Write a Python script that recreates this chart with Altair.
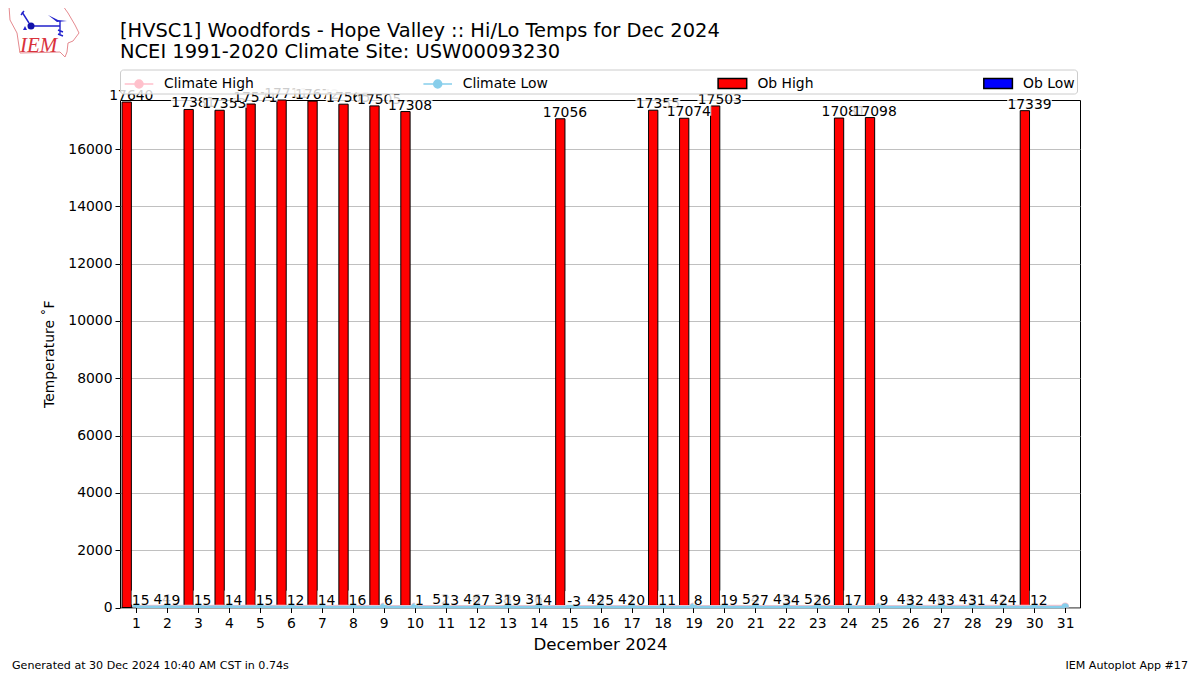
import base64
import altair as alt
import pandas as pd

FONT = "DejaVu Sans"
days = list(range(1, 32))
ob_high = [17640, 44, 17381, 17353, 17571, 17711, 17672, 17565, 17505, 17308,
           52, 46, 38, 36, 17056, 43, 41, 17355, 17074, 17503,
           54, 45, 53, 17081, 17098, 44, 46, 43, 42, 17339, None]
ob_low = [15, 19, 15, 14, 15, 12, 14, 16, 6, 1,
          13, 27, 19, 14, -3, 25, 20, 11, 8, 19,
          27, 34, 26, 17, 9, 32, 33, 31, 24, 12, None]
climate_high = [50, 50, 49, 49, 49, 49, 49, 49, 48, 48, 48, 48, 48, 48, 48, 48,
                48, 48, 48, 48, 48, 48, 48, 48, 48, 48, 49, 49, 49, 49, 49]
climate_low = [22, 22, 22, 22, 22, 21, 21, 21, 21, 21, 21, 21, 21, 21, 21, 21,
               21, 21, 21, 21, 21, 21, 21, 21, 21, 21, 21, 21, 21, 21, 21]
series_names = ["Climate High", "Climate Low", "Ob High", "Ob Low"]
y_ticks = [0, 2000, 4000, 6000, 8000, 10000, 12000, 14000, 16000]
title_lines = ["[HVSC1] Woodfords - Hope Valley :: Hi/Lo Temps for Dec 2024",
               "NCEI 1991-2020 Climate Site: USW00093230"]
left_note = "Generated at 30 Dec 2024 10:40 AM CST in 0.74s"
right_note = "IEM Autoplot App #17"

x_scale = alt.Scale(domain=[0.483, 31.48], nice=False, zero=False)
y_scale = alt.Scale(domain=[0, 17711], nice=False, zero=False)

df = pd.DataFrame({"day": days, "hi": ob_high, "lo": ob_low,
                   "chi": climate_high, "clo": climate_low})
df["hi0"] = df.day - 0.45
df["hi1"] = df.day - 0.15
df["lo0"] = df.day - 0.15
df["lo1"] = df.day + 0.15
df["zero"] = 0
obs = df[df.hi.notna()]

x_axis = alt.Axis(values=days, title="December 2024", grid=False, labelFontSize=13.9,
                  titleFontSize=16.67, labelFont=FONT, titleFont=FONT, tickSize=5,
                  tickColor="black", labelColor="black", titleColor="black", domain=False,
                  labelPadding=4, titlePadding=6, titleFontWeight="normal", labelAngle=0,
                  labelOverlap=False, labelBound=False, labelFlush=False)
y_axis = alt.Axis(values=y_ticks, title="Temperature \u02daF",
                  grid=True, gridColor="#b0b0b0", gridWidth=0.8, labelFontSize=13.9,
                  titleFontSize=13.9, labelFont=FONT, titleFont=FONT, tickSize=5,
                  tickColor="black", labelColor="black", titleColor="black", domain=False,
                  labelPadding=3, titlePadding=11, titleFontWeight="normal", format="d")

hi_bars = alt.Chart(obs).mark_rect(fill="red", stroke="black", strokeWidth=1).encode(
    x=alt.X("hi0:Q", scale=x_scale, axis=x_axis), x2="hi1:Q",
    y=alt.Y("hi:Q", scale=y_scale, axis=y_axis), y2="zero:Q")
lo_bars = alt.Chart(obs).mark_rect(fill="blue", stroke="black", strokeWidth=1).encode(
    x=alt.X("lo0:Q", scale=x_scale, axis=x_axis), x2="lo1:Q",
    y=alt.Y("lo:Q", scale=y_scale, axis=y_axis), y2="zero:Q")


def climate(field, color):
    base = alt.Chart(df).encode(x=alt.X("day:Q", scale=x_scale, axis=x_axis),
                                y=alt.Y(f"{field}:Q", scale=y_scale, axis=y_axis))
    return [base.mark_line(color=color, strokeWidth=2.5),
            base.mark_circle(color=color, size=54, opacity=1, clip=True)]


R = 0.28
CIRCLE = f"M{R},0A{R},{R},0,1,1,-{R},0A{R},{R},0,1,1,{R},0Z"
LINE_SYM = "M-1.3,0H1.3" + CIRCLE.replace(str(R), str(round(R * 1.3, 3)))
BOX_SYM = "M-1.3,-0.45H1.3V0.45H-1.3Z"
fills = ["pink", "skyblue", "red", "blue"]
strokes = ["pink", "skyblue", "black", "black"]
shapes = [LINE_SYM, LINE_SYM, BOX_SYM, BOX_SYM]
legend = alt.Legend(title=None, orient="none", legendX=0, legendY=-30.5, columns=4,
                    columnPadding=165.7, padding=2, symbolSize=484, symbolOffset=5,
                    symbolStrokeWidth=1.5, labelFont=FONT, labelFontSize=13.9,
                    labelColor="black", labelOffset=13, fillColor="rgba(255,255,255,0.8)",
                    strokeColor="#cccccc", cornerRadius=3, zindex=1, symbolOpacity=1,
                    labelExpr="datum.label + '\u00a0\u00a0'")
legend_long = pd.DataFrame({"day": [1, 1, 1, 1], "v": [0, 0, 0, 0], "series": series_names})
legend_layer = alt.Chart(legend_long).transform_filter("datum.day < 0").mark_point(
    filled=True).encode(
    x=alt.X("day:Q", scale=x_scale, axis=x_axis), y=alt.Y("v:Q", scale=y_scale, axis=y_axis),
    fill=alt.Fill("series:N", scale=alt.Scale(domain=series_names, range=fills), legend=legend),
    stroke=alt.Stroke("series:N", scale=alt.Scale(domain=series_names, range=strokes), legend=legend),
    shape=alt.Shape("series:N", scale=alt.Scale(domain=series_names, range=shapes), legend=legend))


def label(day_x, value):
    text = str(int(value))
    row = pd.DataFrame({"px": [day_x], "v": [value], "t": [text]})
    w = len(text) * 8.84 + 0.6
    enc = dict(x=alt.X("px:Q", scale=x_scale, axis=x_axis), y=alt.Y("v:Q", scale=y_scale, axis=y_axis))
    return [
        alt.Chart(row).mark_rect(width=w, height=14, yOffset=-9.5, fill="white", opacity=0.8,
                                 strokeWidth=0).encode(**enc),
        alt.Chart(row).mark_text(font=FONT, fontSize=13.9, color="black", baseline="alphabetic",
                                 dy=-2).encode(text="t:N", **enc),
    ]


label_layers = []
for d, h, l in zip(obs.day, obs.hi, obs.lo):
    label_layers += label(d - 0.15, h) + label(d + 0.15, l)

notes = [
    alt.Chart(pd.DataFrame({"t": [left_note]})).mark_text(
        font=FONT, fontSize=11.1, align="left", color="black").encode(
        x=alt.value(-108), y=alt.value(566), text="t:N"),
    alt.Chart(pd.DataFrame({"t": [right_note]})).mark_text(
        font=FONT, fontSize=11.1, align="right", color="black").encode(
        x=alt.value(1068), y=alt.value(566), text="t:N"),
]

svg = """<svg xmlns='http://www.w3.org/2000/svg' width='72' height='54' viewBox='8 4 72 54'>
<path d='M9,6 L63,6 L68,13 L75,25 L79,33 L73,41 L68,43 L67,52 L65,57 L60,52 L20,53 L17,33 L10,20 Z'
 fill='white' stroke='#e58a8f' stroke-width='1'/>
<path d='M22,12 L29,23 M21,15 L24,11 M32,26 L60,26 M60,21 L60,34 M58,30 L63,32 M58,34 L63,36'
 fill='none' stroke='#2222cc' stroke-width='1.4'/>
<path d='M48,15 L58,20 L67,21 L57,22 Z' fill='#2222cc'/>
<circle cx='31' cy='26' r='3.5' fill='#1111aa'/><path d='M23,30 L25,26 L27,30 Z' fill='#2222cc'/>
</svg>"""
logo_url = "data:image/svg+xml;base64," + base64.b64encode(svg.encode()).decode()
logo = alt.Chart(pd.DataFrame({"a": [0]})).mark_image(
    url=logo_url, width=72, height=54, align="left", baseline="top").encode(
    x=alt.value(-112), y=alt.value(-96))
logo_text = alt.Chart(pd.DataFrame({"t": ["IEM"]})).mark_text(
    font="Liberation Serif", fontStyle="italic", fontSize=21, color="#d9323c", align="left").encode(
    x=alt.value(-100), y=alt.value(-54), text="t:N")

chart = alt.layer(hi_bars, lo_bars, *climate("chi", "pink"), *climate("clo", "skyblue"),
                  legend_layer, *label_layers, *notes, logo, logo_text).properties(
    width=960, height=507.5, background="white",
    title=alt.Title(text=title_lines, anchor="start", frame="group", font=FONT, fontSize=19.44,
                    fontWeight="normal", color="black", lineHeight=21, offset=0, baseline="top",
                    dy=58),
    padding={"left": 112, "top": 92, "right": 112, "bottom": 67},
    autosize=alt.AutoSizeParams(type="none"),
).configure_view(stroke="black", strokeWidth=1)

chart.save("out.html", embed_options={"renderer": "svg", "actions": False})
